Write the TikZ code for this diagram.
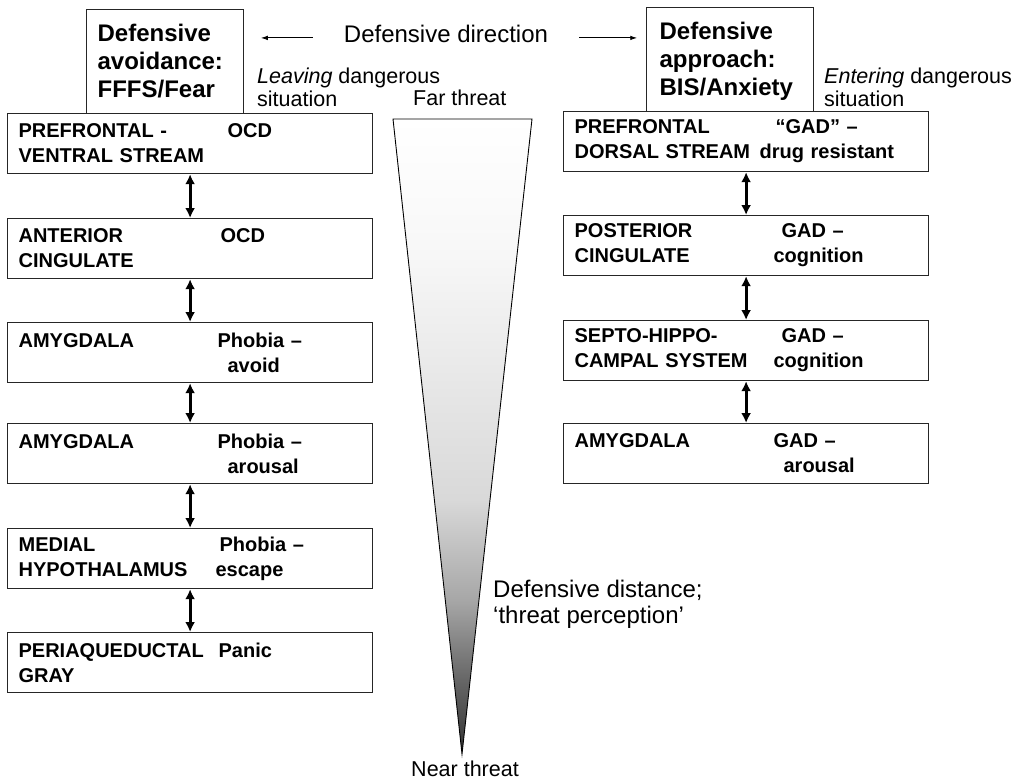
\documentclass[tikz,border=0pt]{standalone}
\usepackage{fontspec}
\setmainfont{Liberation Sans}
\usetikzlibrary{arrows.meta}

\pgfdeclareverticalshading{threatshade}{100bp}{color(0bp)=(black!80); color(25bp)=(black!80); color(30.8bp)=(black!60); color(37bp)=(black!35); color(45bp)=(black!15); color(64.5bp)=(black!3); color(75bp)=(white); color(100bp)=(white)}
\newcommand{\twocol}[3]{\makebox[#1pt][l]{#2}#3}

\begin{document}
\begin{tikzpicture}[x=1pt,y=-1pt,
    region/.style={draw=black!85,line width=1.2pt,rectangle,anchor=north west,minimum width=365pt,minimum height=60pt,inner xsep=11pt,text width=343pt,align=left,font=\bfseries\fontsize{20}{25}\selectfont},
    header/.style={draw=black!85,line width=1.2pt,rectangle,anchor=north west,minimum height=104pt,inner ysep=4pt,text height=20pt,text depth=60pt,align=left,font=\bfseries\fontsize{24}{28}\selectfont},
    note/.style={inner sep=0pt,align=left,font=\fontsize{21.5}{23}\selectfont},
    link/.style={line width=3pt,{Latex[length=10pt,width=10pt]}-{Latex[length=10pt,width=10pt]}},
    dirarrow/.style={line width=0.9pt,-{Latex[length=7pt,width=4.5pt]}}]
\useasboundingbox (0,0) rectangle (1036,782);

% threat gradient
\shadedraw[shading=threatshade,line width=0.9pt] (393,119) -- (532,119) -- (462,754) -- cycle;

% avoidance side
\node[region] (pfv) at (7,113) {\twocol{209}{PREFRONTAL -}{OCD}\\VENTRAL STREAM};
\node[region] (acing) at (7,218) {\twocol{202}{ANTERIOR}{OCD}\\CINGULATE};
\node[region] (amyav) at (7,322) {\twocol{199}{AMYGDALA}{Phobia –}\\\twocol{209}{}{avoid}};
\node[region] (amyar) at (7,423) {\twocol{199}{AMYGDALA}{Phobia –}\\\twocol{209}{}{arousal}};
\node[region] (mhyp) at (7,528) {\twocol{201}{MEDIAL}{Phobia –}\\\twocol{197}{HYPOTHALAMUS}{escape}};
\node[region] (pag) at (7,632) {\twocol{200}{PERIAQUEDUCTAL}{Panic}\\GRAY};
\node[header,inner xsep=11pt,text width=135pt] (avoid) at (86,9) {Defensive\\avoidance:\\FFFS/Fear};

% approach side
\node[region] (pfd) at (563,111) {\twocol{201}{PREFRONTAL}{“GAD” –}\\\twocol{185}{DORSAL STREAM}{drug resistant}};
\node[region] (pcing) at (563,215) {\twocol{207}{POSTERIOR}{GAD –}\\\twocol{199}{CINGULATE}{cognition}};
\node[region] (shs) at (563,320) {\twocol{207}{SEPTO-HIPPO-}{GAD –}\\\twocol{199}{CAMPAL SYSTEM}{cognition}};
\node[region] (amyg) at (563,423) {\twocol{199}{AMYGDALA}{GAD –}\\\twocol{209}{}{arousal}};
\node[header,inner xsep=13pt,text width=141pt] (approach) at (646,7) {Defensive\\approach:\\BIS/Anxiety};

\draw[link] (pfv.south) -- (acing.north);
\draw[link] (acing.south) -- (amyav.north);
\draw[link] (amyav.south) -- (amyar.north);
\draw[link] (amyar.south) -- (mhyp.north);
\draw[link] (mhyp.south) -- (pag.north);
\draw[link] (pfd.south) -- (pcing.north);
\draw[link] (pcing.south) -- (shs.north);
\draw[link] (shs.south) -- (amyg.north);

% labels
\node[note,font=\fontsize{24}{28}\selectfont,anchor=base] (dir) at (446,42) {Defensive direction};
\draw[dirarrow] ([xshift=-31pt,yshift=-4.5pt]dir.west) -- ++(-52,0);
\draw[dirarrow] ([xshift=31pt,yshift=-4.5pt]dir.east) -- ++(58,0);
\node[note,anchor=north west] (leave) at (257,68) {\textit{Leaving} dangerous\\situation};
\node[note,anchor=base west] (far) at (413,105) {Far threat};
\node[note,anchor=north west] (enter) at (824,68) {\textit{Entering} dangerous\\situation};
\node[note,font=\fontsize{24}{26}\selectfont,anchor=north west] (dist) at (493,579.5) {Defensive distance;\\‘threat perception’};
\node[note,anchor=base] (near) at (465,776) {Near threat};
\end{tikzpicture}
\end{document}
